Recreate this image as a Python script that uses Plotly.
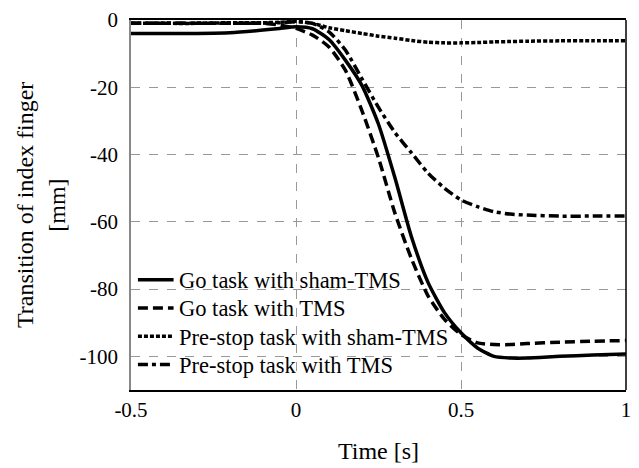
import plotly.graph_objects as go

time_s = [-0.5, -0.4, -0.3, -0.2, -0.1, -0.05, 0.0, 0.05, 0.1, 0.15, 0.2, 0.25,
          0.3, 0.35, 0.4, 0.45, 0.5, 0.55, 0.6, 0.65, 0.7, 0.8, 0.9, 1.0]

go_sham = [-4, -4, -4, -3.8, -3, -2.5, -2, -2.6, -5.8, -12, -19.5, -31,
           -47, -64.5, -78, -87, -93, -97.5, -100, -100.5, -100.5, -100, -99.6, -99.3]

go_tms = [-1, -1, -1, -1, -1, -1.5, -2.5, -4.5, -8, -15, -27, -41,
          -57.5, -71, -82, -89, -93.5, -96, -96.5, -96.5, -96.2, -95.8, -95.5, -95.3]

prestop_sham = [-1, -1, -1, -0.8, -0.8, -0.7, -0.4, -1, -2.3, -3.2, -4, -4.8,
                -5.4, -6.1, -6.6, -6.8, -6.8, -6.7, -6.5, -6.4, -6.3, -6.2, -6.2, -6.2]

prestop_tms = [-1, -1, -1, -1, -0.9, -0.8, -0.5, -1, -3.5, -9, -17.5, -26,
               -33.5, -39.5, -45.5, -50, -53.5, -55.5, -57, -57.7, -58, -58.3, -58.3, -58.3]

series_names = ["Go task with sham-TMS", "Go task with TMS",
                "Pre-stop task with sham-TMS", "Pre-stop task with TMS"]

x_ticks = [-0.5, 0, 0.5, 1]
x_tick_labels = ["-0.5", "0", "0.5", "1"]
y_ticks = [0, -20, -40, -60, -80, -100]
y_tick_labels = ["0", "-20", "-40", "-60", "-80", "-100"]

FONT = "Liberation Serif"
dashes = ["solid", "10px,5px", "4px,2px", "10px,4px,4px,4px"]
data = [go_sham, go_tms, prestop_sham, prestop_tms]

# plot area in pixels (for placing legend pieces)
L, R, T, B = 131, 631, 16, 395
def px_x(p):
    return (p - L) / (R - L)
def px_y(p):
    return (B - p) / (B - T)

fig = go.Figure()
for name, vals, dsh in zip(series_names, data, dashes):
    fig.add_trace(go.Scatter(x=time_s, y=vals, mode="lines", name=name,
                             showlegend=False,
                             line=dict(color="black", width=3.5, dash=dsh,
                                       shape="spline", smoothing=0.6)))

fig.update_layout(
    width=639, height=468,
    margin=dict(l=L, r=639 - R, t=T, b=468 - B),
    paper_bgcolor="white", plot_bgcolor="white",
    font=dict(family=FONT, color="black", size=21),
    showlegend=False,
    xaxis=dict(range=[-0.5, 1], tickvals=x_ticks, ticktext=x_tick_labels,
               showgrid=True, gridcolor="#999999", griddash="dash", gridwidth=1,
               showline=True, linecolor="black", linewidth=1.5, mirror=True,
               zeroline=False, ticks="",
               tickfont=dict(family=FONT, size=21, color="black"),
               title=dict(text="Time [s]", font=dict(family=FONT, size=24, color="black"),
                          standoff=21)),
    yaxis=dict(range=[-110, 0], tickvals=y_ticks, ticktext=y_tick_labels,
               showgrid=True, gridcolor="#999999", griddash="dash", gridwidth=1,
               showline=True, linecolor="#888888", linewidth=1.5, mirror=False,
               zeroline=False, ticks="",
               tickfont=dict(family=FONT, size=21, color="black"),
               ticklabelstandoff=7),
)

# right frame edge in black
fig.add_shape(type="line", xref="paper", yref="paper", x0=1, x1=1, y0=0, y1=1,
              line=dict(color="black", width=1.5))
# white patches behind the legend hide gridlines but not curves
fig.add_shape(type="rect", xref="paper", yref="paper", layer="between",
              x0=0.004, x1=px_x(410), y0=px_y(388), y1=px_y(266),
              fillcolor="white", line=dict(width=0))
fig.add_shape(type="rect", xref="paper", yref="paper", layer="between",
              x0=0.004, x1=px_x(440), y0=px_y(385), y1=px_y(326),
              fillcolor="white", line=dict(width=0))

# legend (line samples + labels)
legend_rows = [282, 311, 340, 369]
for name, dsh, row in zip(series_names, dashes, legend_rows):
    fig.add_shape(type="line", xref="paper", yref="paper",
                  x0=px_x(138), x1=px_x(174), y0=px_y(row), y1=px_y(row),
                  line=dict(color="black", width=3.5, dash=dsh))
    fig.add_annotation(text=name, xref="paper", yref="paper",
                       x=px_x(177), y=px_y(row + 1), xanchor="left", yanchor="middle",
                       showarrow=False,
                       font=dict(family=FONT, size=22.5, color="black"))

fig.add_annotation(text="Transition of index finger", xref="paper", yref="paper",
                   x=px_x(24), y=0.5, textangle=-90, showarrow=False,
                   xanchor="center", yanchor="middle",
                   font=dict(family=FONT, size=24, color="black"))
fig.add_annotation(text="[mm]", xref="paper", yref="paper",
                   x=px_x(56), y=0.5, textangle=-90, showarrow=False,
                   xanchor="center", yanchor="middle",
                   font=dict(family=FONT, size=24, color="black"))

fig.write_html("out.html", config={"displayModeBar": False},
               post_script="document.body.style.margin='0px';")
